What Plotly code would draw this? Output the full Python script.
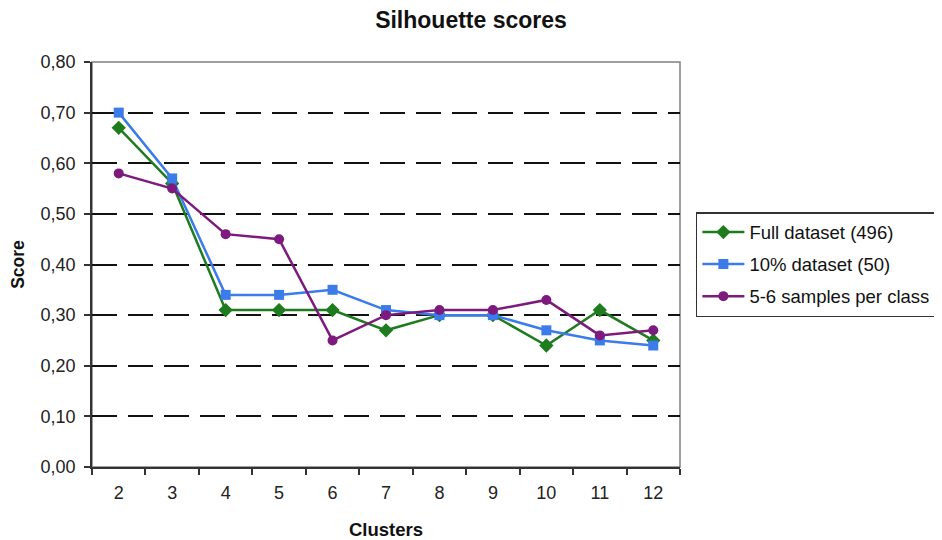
import plotly.graph_objects as go

clusters = ["2", "3", "4", "5", "6", "7", "8", "9", "10", "11", "12"]
full_dataset = [0.67, 0.56, 0.31, 0.31, 0.31, 0.27, 0.30, 0.30, 0.24, 0.31, 0.25]
ten_pct_dataset = [0.70, 0.57, 0.34, 0.34, 0.35, 0.31, 0.30, 0.30, 0.27, 0.25, 0.24]
few_samples = [0.58, 0.55, 0.46, 0.45, 0.25, 0.30, 0.31, 0.31, 0.33, 0.26, 0.27]
y_ticks = [0.0, 0.1, 0.2, 0.3, 0.4, 0.5, 0.6, 0.7, 0.8]
y_tick_labels = ["0,00", "0,10", "0,20", "0,30", "0,40", "0,50", "0,60", "0,70", "0,80"]

series = [
    ("Full dataset (496)", full_dataset, "#1e7b1e", "diamond", 11),
    ("10% dataset (50)", ten_pct_dataset, "#3b7bea", "square", 10),
    ("5-6 samples per class", few_samples, "#7d1a7d", "circle", 10),
]

fig = go.Figure()
for i, (name, vals, color, sym, size) in enumerate(series):
    fig.add_trace(go.Scatter(
        x=clusters, y=vals, name=name, mode="lines+markers",
        legendgroup=f"g{i}",
        line=dict(color=color, width=2.5),
        marker=dict(symbol=sym, size=size, color=color),
    ))

fig.add_shape(type="rect", xref="paper", yref="paper", x0=0, x1=1, y0=0, y1=1,
              line=dict(color="#808080", width=1.5), layer="below")

W, H = 942, 540
fig.update_layout(
    width=W, height=H,
    margin=dict(l=84, r=270, t=54, b=81, autoexpand=False),
    paper_bgcolor="white", plot_bgcolor="white",
    font=dict(family="Liberation Sans, Arial, sans-serif", size=18, color="#222222"),
    title=dict(text="<b>Silhouette scores</b>", x=463 / W, xanchor="center",
               y=1 - 12 / H, yanchor="middle", font=dict(size=23, color="#111111")),
    showlegend=True,
    legend=dict(x=1.027, xanchor="left", y=(467 - 212) / 405, yanchor="top",
                bordercolor="#333333", borderwidth=1.5, bgcolor="white",
                font=dict(size=18.5, color="#111111"), itemwidth=42,
                traceorder="grouped", tracegroupgap=5),
    xaxis=dict(
        type="category", range=[-0.5, 10.5], tickson="boundaries",
        ticks="outside", ticklen=6, tickcolor="#333333", tickwidth=1.5,
        showline=True, linecolor="#333333", linewidth=1.5,
        showgrid=False, zeroline=False, ticklabelstandoff=9,
        tickfont=dict(size=18, color="#222222"),
        title=dict(text="<b>Clusters</b>", font=dict(size=18.5, color="#111111"), standoff=21),
    ),
    yaxis=dict(
        range=[0, 0.8], tickvals=y_ticks, ticktext=y_tick_labels,
        ticks="outside", ticklen=6, tickcolor="#333333", tickwidth=1.5,
        showline=True, linecolor="#333333", linewidth=1.5,
        showgrid=True, gridcolor="#111111", gridwidth=1.5, griddash="25px,11px",
        zeroline=False, ticklabelstandoff=5,
        tickfont=dict(size=18, color="#222222"),
        title=dict(text="<b>Score</b>", font=dict(size=17.5, color="#111111"), standoff=14),
    ),
)

fig.write_html("out.html")
